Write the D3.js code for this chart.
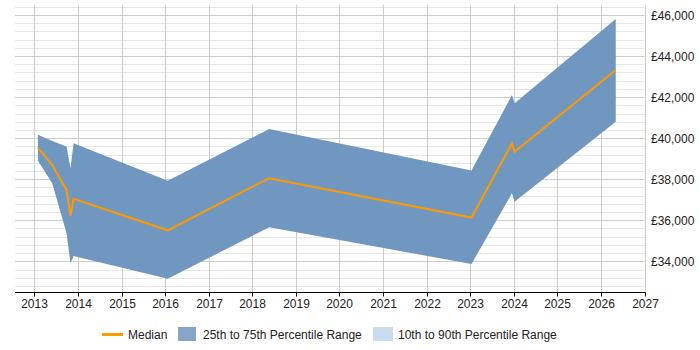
<!DOCTYPE html>
<html>
  <head>
    <meta charset="utf-8">
    <title>Salary percentiles</title>
    <script src="https://cdn.jsdelivr.net/npm/d3@7"></script>
    <style>
      body { margin: 0; background: #fff; }
      svg { display: block; font-family: "Liberation Sans", Arial, sans-serif; }
      .yearLabel, .valueLabel, .legendLabel { font-size: 12px; fill: #222; }
    </style>
  </head>

  <body>
    <svg id="chart" width="700" height="350"></svg>

    <script>
      // data
      const dates = [
        "2013-01-30", "2013-05-30", "2013-09-27", "2013-10-30", "2013-11-25",
        "2016-01-23", "2018-05-22", "2023-01-12", "2023-12-17", "2024-01-08",
        "2026-05-05"
      ];
      const median = [39540, 38690, 37480, 36210, 37040, 35510, 38050, 36130, 39750, 39340, 43320];
      const upper = [40170, 39860, 39590, 38530, 39750, 37930, 40450, 38420, 42100, 41700, 45810];
      const lower = [38900, 37800, 35370, 33900, 34260, 33150, 35660, 33870, 37310, 36900, 40800];
      const years = d3.range(2013, 2028);
      const legendItems = ["Median", "25th to 75th Percentile Range", "10th to 90th Percentile Range"];

      const parse = d3.timeParse("%Y-%m-%d");
      const rows = dates.map(function(d, i) {
        return { date: parse(d), median: median[i], upper: upper[i], lower: lower[i] };
      });

      // elements
      const svg = d3.select("#chart");
      const plotLeft = 15;
      const plotRight = 644.5;
      const plotTop = 6;
      const plotBottom = 292.5;

      const x = d3.scaleTime()
        .domain([new Date(2012, 6, 22), new Date(2027, 0, 1)])
        .range([plotLeft, plotRight]);

      const y = d3.scaleLinear()
        .domain([32480, 46440])
        .range([plotBottom, plotTop]);

      function yearX(d) {
        return Math.round(x(new Date(d, 0, 1))) + 0.5;
      }

      // horizontal grid, minor every 400, major every 2000
      const gridValues = d3.range(32800, 46401, 400);
      svg.append("g")
        .selectAll("line")
          .data(gridValues)
        .enter().append("line")
          .attr("x1", plotLeft)
          .attr("x2", plotRight)
          .attr("y1", function(d) { return Math.round(y(d)) + 0.5; })
          .attr("y2", function(d) { return Math.round(y(d)) + 0.5; })
          .attr("stroke", function(d) { return d % 2000 == 0 ? "#cccccc" : "#e6e6e6"; });

      // vertical grid
      svg.append("g")
        .selectAll("line")
          .data(years)
        .enter().append("line")
          .attr("x1", yearX)
          .attr("x2", yearX)
          .attr("y1", plotTop - 1)
          .attr("y2", plotBottom)
          .attr("stroke", "#cccccc");

      // percentile band
      const area = d3.area()
        .x(function(d) { return x(d.date); })
        .y0(function(d) { return y(d.lower); })
        .y1(function(d) { return y(d.upper); });

      svg.append("path")
        .datum(rows)
        .attr("d", area)
        .attr("fill", "#7097bf");

      // median line
      const line = d3.line()
        .x(function(d) { return x(d.date); })
        .y(function(d) { return y(d.median); });

      svg.append("path")
        .datum(rows)
        .attr("d", line)
        .attr("fill", "none")
        .attr("stroke", "#ff9900")
        .attr("stroke-width", 2);

      // x axis
      const xAxis = svg.append("g")
        .attr("transform", "translate(0," + plotBottom + ")");
      xAxis.append("line")
        .attr("x1", plotLeft)
        .attr("x2", plotRight + 1)
        .attr("stroke", "#000");
      const ticks = xAxis.selectAll(".tick")
          .data(years)
        .enter().append("g")
          .attr("transform", function(d) { return "translate(" + yearX(d) + ",0)"; });
      ticks.append("line")
        .attr("y2", 4)
        .attr("stroke", "#000");
      ticks.append("text")
        .classed("yearLabel", true)
        .attr("y", 15.5)
        .attr("text-anchor", "middle")
        .text(function(d) { return d; });

      // y labels on the right
      svg.append("g")
        .selectAll("text")
          .data(d3.range(34000, 46001, 2000))
        .enter().append("text")
          .classed("valueLabel", true)
          .attr("x", 651)
          .attr("y", function(d) { return y(d) + 4.5; })
          .text(function(d) { return "£" + d3.format(",")(d); });

      // legend
      const legend = svg.append("g");
      legend.append("line")
        .attr("x1", 102)
        .attr("x2", 123)
        .attr("y1", 334.5)
        .attr("y2", 334.5)
        .attr("stroke", "#ff9900")
        .attr("stroke-width", 3);
      legend.append("text")
        .classed("legendLabel", true)
        .attr("x", 128)
        .attr("y", 338.5)
        .text(legendItems[0]);
      legend.append("rect")
        .attr("x", 178)
        .attr("y", 327)
        .attr("width", 18)
        .attr("height", 14)
        .attr("fill", "#86a6c9");
      legend.append("text")
        .classed("legendLabel", true)
        .attr("x", 203)
        .attr("y", 338.5)
        .text(legendItems[1]);
      legend.append("rect")
        .attr("x", 373)
        .attr("y", 327)
        .attr("width", 20)
        .attr("height", 14)
        .attr("fill", "#cbdcee");
      legend.append("text")
        .classed("legendLabel", true)
        .attr("x", 398)
        .attr("y", 338.5)
        .text(legendItems[2]);
    </script>
  </body>
</html>
